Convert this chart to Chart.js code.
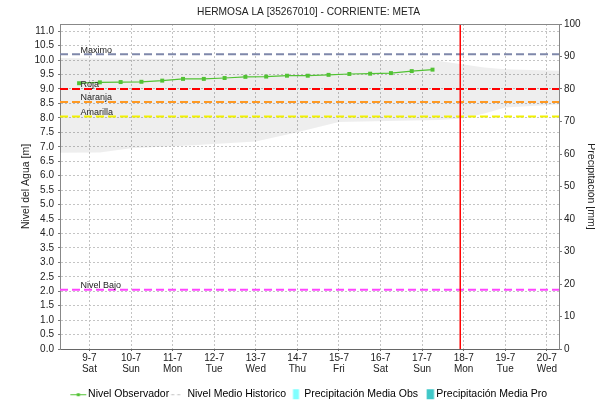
<!DOCTYPE html>
<html><head><meta charset="utf-8">
<script src="https://cdn.jsdelivr.net/npm/chart.js@4/dist/chart.umd.min.js"></script>
<style>html,body{margin:0;padding:0;background:#fff;}#wrap{width:595px;height:403px;}</style>
</head><body><div id="wrap"><canvas id="c" width="595" height="403"></canvas></div>
<script>
// ---------- data ----------
const chartTitle = 'HERMOSA LA [35267010] - CORRIENTE: META';
const leftAxisTitle = 'Nivel del Agua [m]';
const rightAxisTitle = 'Precipitación [mm]';
const tickDates = ['2022-07-09','2022-07-10','2022-07-11','2022-07-12','2022-07-13','2022-07-14','2022-07-15','2022-07-16','2022-07-17','2022-07-18','2022-07-19','2022-07-20'];
const tickDateLabels = ['9-7','10-7','11-7','12-7','13-7','14-7','15-7','16-7','17-7','18-7','19-7','20-7'];
const tickDayLabels = ['Sat','Sun','Mon','Tue','Wed','Thu','Fri','Sat','Sun','Mon','Tue','Wed'];
const xStart = '2022-07-08T07:00';
const xEnd = '2022-07-20T07:00';
const levelMax = 11.25;
const precipMax = 100;

const obsTimes = ['2022-07-08T18:00','2022-07-09T06:00','2022-07-09T18:00','2022-07-10T06:00','2022-07-10T18:00','2022-07-11T06:00','2022-07-11T18:00','2022-07-12T06:00','2022-07-12T18:00','2022-07-13T06:00','2022-07-13T18:00','2022-07-14T06:00','2022-07-14T18:00','2022-07-15T06:00','2022-07-15T18:00','2022-07-16T06:00','2022-07-16T18:00','2022-07-17T06:00'];
const obsLevels = [9.20, 9.23, 9.24, 9.25, 9.29, 9.35, 9.35, 9.38, 9.42, 9.43, 9.46, 9.46, 9.49, 9.52, 9.53, 9.55, 9.62, 9.67];

const bandTimes = ['2022-07-08T07:00','2022-07-09T06:00','2022-07-10T00:00','2022-07-11T12:00','2022-07-13T00:00','2022-07-14T00:00','2022-07-15T00:00','2022-07-17T10:00','2022-07-18T00:00','2022-07-18T12:00','2022-07-19T00:00','2022-07-20T07:00'];
const bandLow  = [6.79, 6.80, 6.95, 7.05, 7.18, 7.50, 7.86, 7.93, 7.98, 8.15, 8.36, 8.46];
const bandHigh = [10.07, 10.06, 10.05, 10.03, 10.01, 10.00, 9.99, 9.97, 9.85, 9.74, 9.68, 9.63];

const thresholdNames  = ['Maximo', 'Roja', 'Naranja', 'Amarilla', 'Nivel Bajo'];
const thresholdValues = [10.2, 9.0, 8.55, 8.05, 2.05];
const thresholdColors = ['#7f88aa', '#ff0000', '#ff9922', '#f2f200', '#ff44ff'];

const nowTime = '2022-07-17T22:00';

const legendNames = ['Nivel Observador', 'Nivel Medio Historico', 'Precipitación Media Obs', 'Precipitación Media Pro'];
const precipObs = [];
const precipPro = [];
const historicMean = [];

// ---------- helpers ----------
const FONT = "'Liberation Sans', Arial, sans-serif";
const baseMs = Date.parse('2022-07-09T00:00:00Z');
function toH(s) {
  const full = s.length === 10 ? s + 'T00:00' : s;
  return (Date.parse(full + ':00Z') - baseMs) / 3600000;
}
const xMin = toH(xStart), xMax = toH(xEnd);
const tickValues = tickDates.map(toH);

// legend icons (positions relative to text start)
const LEG_FS = 10.5, LEG_W = 13, IW = 48, IH = 14;
const off = LEG_W / 2 + LEG_FS / 2;
const u = rel => IW / 2 + off + rel;
function makeIcon(draw) {
  const c = document.createElement('canvas');
  c.width = IW; c.height = IH;
  draw(c.getContext('2d'));
  return c;
}
const legendIcons = [
  makeIcon(g => { g.strokeStyle = '#52c234'; g.lineWidth = 1; g.beginPath(); g.moveTo(u(-17.7), 7.5); g.lineTo(u(-1.7), 7.5); g.stroke(); g.fillStyle = '#52c234'; g.fillRect(u(-9.7) - 1.5, 6, 3, 3); }),
  makeIcon(g => { g.strokeStyle = '#c0c0c0'; g.lineWidth = 1; g.setLineDash([3, 3]); g.beginPath(); g.moveTo(u(-16.2), 7.5); g.lineTo(u(-4.4), 7.5); g.stroke(); }),
  makeIcon(g => { g.fillStyle = '#80ffff'; g.fillRect(u(-11.3), 2, 6, 10); }),
  makeIcon(g => { g.fillStyle = '#40c8c8'; g.fillRect(u(-9.7), 2, 7.4, 10); })
];

// ---------- datasets ----------
const datasets = [];
datasets.push({ label: legendNames[0], type: 'line', data: obsTimes.map((t, i) => ({ x: toH(t), y: obsLevels[i] })),
  borderColor: '#52c234', backgroundColor: '#52c234', borderWidth: 1.2, pointStyle: 'rect', pointRadius: 2.8,
  pointBorderWidth: 0, pointBackgroundColor: '#52c234', fill: false, yAxisID: 'y' });
datasets.push({ label: legendNames[1], type: 'line', data: historicMean, borderColor: '#c0c0c0', borderDash: [3, 3], pointRadius: 0, yAxisID: 'y' });
datasets.push({ label: legendNames[2], type: 'bar', data: precipObs, backgroundColor: '#80ffff', yAxisID: 'y2' });
datasets.push({ label: legendNames[3], type: 'bar', data: precipPro, backgroundColor: '#40c8c8', yAxisID: 'y2' });
datasets.push({ label: 'now', type: 'line', data: [{ x: toH(nowTime), y: 0 }, { x: toH(nowTime), y: levelMax }],
  borderColor: '#ff0000', borderWidth: 1.5, pointRadius: 0, fill: false, yAxisID: 'y' });
thresholdNames.forEach((n, i) => {
  datasets.push({ label: n, type: 'line', data: [{ x: xMin, y: thresholdValues[i] }, { x: xMax, y: thresholdValues[i] }],
    borderColor: thresholdColors[i], borderWidth: 2, borderDash: [8, 4], pointRadius: 0, fill: false, yAxisID: 'y' });
});
datasets.push({ label: 'bandLow', type: 'line', data: bandTimes.map((t, i) => ({ x: toH(t), y: bandLow[i] })),
  borderColor: 'rgba(0,0,0,0)', pointRadius: 0, fill: false, yAxisID: 'y' });
datasets.push({ label: 'bandHigh', type: 'line', data: bandTimes.map((t, i) => ({ x: toH(t), y: bandHigh[i] })),
  borderColor: 'rgba(0,0,0,0)', backgroundColor: 'rgba(0,0,0,0.065)', pointRadius: 0, fill: '-1', yAxisID: 'y' });

// ---------- plugin: threshold labels + top frame ----------
const extras = {
  id: 'extras',
  afterDatasetsDraw(chart) {
    const { ctx, chartArea, scales } = chart;
    ctx.save();
    ctx.font = '9px ' + FONT;
    ctx.fillStyle = '#222';
    ctx.textAlign = 'left';
    ctx.textBaseline = 'alphabetic';
    thresholdNames.forEach((n, i) => {
      const y = scales.y.getPixelForValue(thresholdValues[i]);
      ctx.fillText(n, chartArea.left + 20.5, y - 1.7);
    });
    ctx.restore();
  },
  afterDraw(chart) {
    const { ctx, chartArea } = chart;
    ctx.save();
    ctx.strokeStyle = '#888';
    ctx.lineWidth = 1;
    ctx.beginPath();
    ctx.moveTo(chartArea.left, Math.round(chartArea.top) + 0.5);
    ctx.lineTo(chartArea.right, Math.round(chartArea.top) + 0.5);
    ctx.stroke();
    ctx.restore();
  }
};

const tickFont = { family: FONT, size: 10 };
new Chart(document.getElementById('c'), {
  type: 'line',
  data: { datasets },
  options: {
    responsive: false, animation: false, devicePixelRatio: 1,
    layout: { padding: { left: 22, right: 0, top: 0, bottom: -6.5 } },
    plugins: {
      title: { display: true, text: chartTitle, color: '#222', font: { family: FONT, size: 10.2, weight: 'normal' }, padding: { top: 6, bottom: 5.76 } },
      tooltip: { enabled: false },
      legend: {
        position: 'bottom', align: 'center',
        labels: {
          usePointStyle: true, pointStyleWidth: LEG_W, padding: 0, color: '#222',
          font: { family: FONT, size: LEG_FS },
          generateLabels: () => legendNames.map((n, i) => ({ text: n, pointStyle: legendIcons[i], fillStyle: 'transparent', strokeStyle: 'transparent', lineWidth: 0, hidden: false, datasetIndex: i }))
        }
      }
    },
    scales: {
      x: {
        type: 'linear', position: 'bottom', min: xMin, max: xMax, offset: false,
        afterBuildTicks: s => { s.ticks = tickValues.map(v => ({ value: v })); },
        afterFit: s => { s.height = 40; },
        ticks: { autoSkip: false, maxRotation: 0, padding: 1.4, color: '#222', font: { family: FONT, size: 10, lineHeight: 1.13 },
          callback: v => { const i = tickValues.indexOf(v); return i < 0 ? '' : [tickDateLabels[i], tickDayLabels[i]]; } },
        grid: { color: '#c4c4c4', tickLength: 2, tickColor: '#666', offset: false },
        border: { color: '#666', dash: [2, 2] }
      },
      y: {
        position: 'left', min: 0, max: levelMax,
        afterFit: s => { s.width = 38; },
        ticks: { stepSize: 0.5, maxTicksLimit: 40, autoSkip: false, includeBounds: false, padding: 4, color: '#222', font: tickFont, callback: v => Number(v).toFixed(1) },
        grid: { color: '#c4c4c4', tickLength: 2, tickColor: '#777' },
        border: { color: '#888', dash: [2, 2] },
        title: { display: true, text: leftAxisTitle, color: '#222', font: { family: FONT, size: 10.5 }, padding: { top: -2, bottom: 0 } }
      },
      y2: {
        position: 'right', min: 0, max: precipMax,
        afterFit: s => { s.width = 36; },
        ticks: { stepSize: 10, maxTicksLimit: 20, padding: 2, color: '#222', font: tickFont },
        grid: { drawOnChartArea: false, tickLength: 3, color: '#777', tickColor: '#777' },
        border: { color: '#888' },
        title: { display: true, text: rightAxisTitle, color: '#222', font: { family: FONT, size: 10.5 }, padding: { top: -2, bottom: 0 } }
      }
    }
  },
  plugins: [extras]
});
</script></body></html>
